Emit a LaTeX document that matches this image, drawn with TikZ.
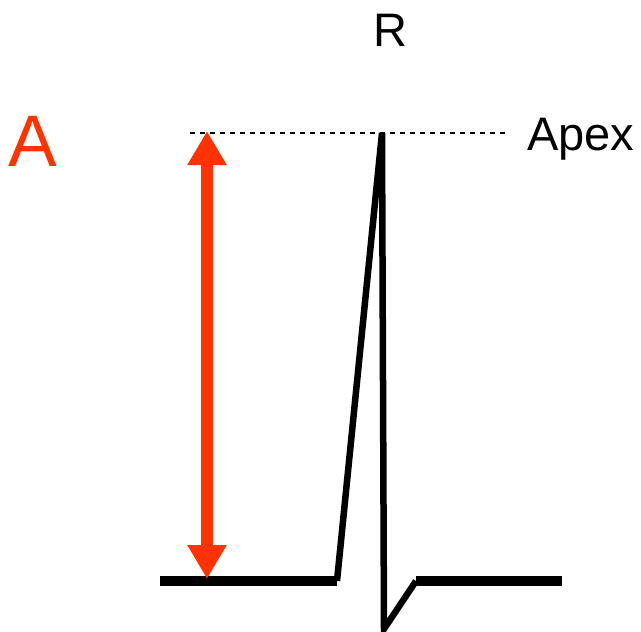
\documentclass[tikz,border=0pt]{standalone}
\usepackage{fontspec}
\setmainfont{Liberation Sans}
\usetikzlibrary{arrows.meta}
\definecolor{ared}{RGB}{255,51,0}
\begin{document}
\begin{tikzpicture}[x=1pt,y=-1pt,
  trace/.style={line width=6.5pt,line join=miter,black},
  base/.style={line width=10pt,black},
  lbl/.style={inner sep=0pt,anchor=base}]
\useasboundingbox (0,0) rectangle (641,632);
% coordinates
\coordinate (dl) at (190,133);
\coordinate (dr) at (508,133);
\coordinate (atop) at (207,131);
\coordinate (abot) at (207,579);
\coordinate (b0) at (160,581);
\coordinate (b1) at (337,581);
\coordinate (apex) at (382,133);
\coordinate (q) at (384,629);
\coordinate (s) at (416,581);
\coordinate (b2) at (562,581);
% dashed apex line
\draw[line width=1.3pt,dash pattern=on 5pt off 5pt] (dl) -- (dr);
% baselines
\draw[base] (b0) -- (b1);
\draw[base] (s) -- (b2);
% spike
\draw[trace] (b1) -- (apex) -- (q) -- (s);
% amplitude arrow
\draw[ared,line width=12pt,{Triangle[width=37pt,length=34pt]}-{Triangle[width=37pt,length=34pt]}] (atop) -- (abot);
% labels
\node[lbl,font=\fontsize{47}{47}\selectfont] (R) at (390,46) {R};
\node[lbl,font=\fontsize{73}{73}\selectfont,text=ared] (A) at (33,166) {A};
\node[lbl,anchor=base west,font=\fontsize{47}{47}\selectfont] (Apex) at (527,150) {Apex};
\end{tikzpicture}
\end{document}
